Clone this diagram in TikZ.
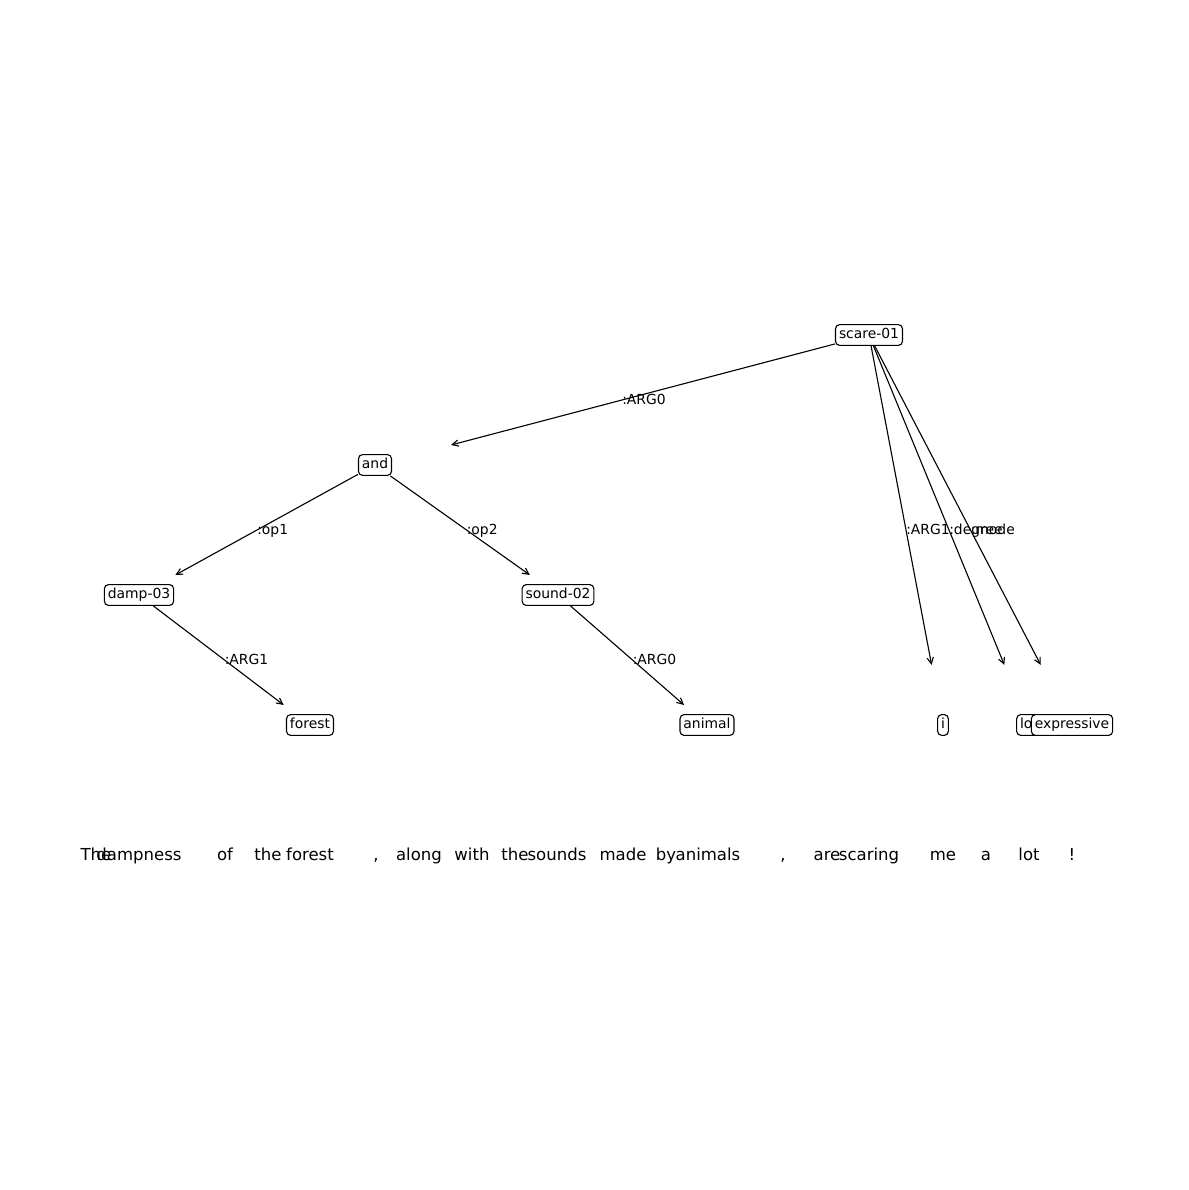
\documentclass[tikz,border=0pt]{standalone}
\usepackage{fontspec}
\setmainfont{DejaVu Sans}
\usetikzlibrary{calc,arrows.meta}
\begin{document}
\begin{tikzpicture}[x=0.72pt,y=-0.72pt,
  concept/.style={draw, fill=white, rounded corners=3pt, line width=0.8pt,
    inner xsep=2.5pt, inner ysep=2.5pt, text height=7.5pt, text depth=2.5pt,
    font=\fontsize{10}{12}\selectfont},
  rel/.style={line width=0.8pt, -{Straight Barb[length=4.5pt,width=4.5pt]}},
  rellabel/.style={anchor=west, inner sep=0pt, text height=7.5pt, text depth=2.5pt,
    yshift=-0.7pt, font=\fontsize{10}{12}\selectfont},
  token/.style={inner sep=0pt, text height=8.9pt, text depth=2.8pt,
    font=\fontsize{11.9}{14}\selectfont}]
\useasboundingbox (0,0) rectangle (1189,1190);

% concept nodes
\node[concept] (scare)  at (869,335) {scare-01};
\node[concept] (and)    at (375,465) {and};
\node[concept] (damp)   at (139,595) {damp-03};
\node[concept] (sound)  at (558,595) {sound-02};
\node[concept] (forest) at (310,725) {forest};
\node[concept] (animal) at (707,725) {animal};
\node[concept] (i)      at (943,725) {i};
\node[concept] (lot)    at (1029,725) {lot};
\node[concept] (expr)   at (1072,725) {expressive};

% arrow tips stop short of their targets
\coordinate (and-tip)    at ($(scare)!0.846!(and)$);
\coordinate (damp-tip)   at ($(and)!0.846!(damp)$);
\coordinate (sound-tip)  at ($(and)!0.846!(sound)$);
\coordinate (forest-tip) at ($(damp)!0.846!(forest)$);
\coordinate (animal-tip) at ($(sound)!0.846!(animal)$);
\coordinate (i-tip)      at ($(scare)!0.846!(i)$);
\coordinate (lot-tip)    at ($(scare)!0.846!(lot)$);
\coordinate (expr-tip)   at ($(scare)!0.846!(expr)$);

% relations
\draw[rel] (scare) -- (and-tip);
\draw[rel] (and)   -- (damp-tip);
\draw[rel] (and)   -- (sound-tip);
\draw[rel] (damp)  -- (forest-tip);
\draw[rel] (sound) -- (animal-tip);
\draw[rel] (scare) -- (i-tip);
\draw[rel] (scare) -- (lot-tip);
\draw[rel] (scare) -- (expr-tip);

% relation labels
\node[rellabel] (l-arg0)  at ($(scare)!0.5!(and)$)    {:ARG0};
\node[rellabel] (l-op1)   at ($(and)!0.5!(damp)$)     {:op1};
\node[rellabel] (l-op2)   at ($(and)!0.5!(sound)$)    {:op2};
\node[rellabel] (l-arg1a) at ($(damp)!0.5!(forest)$)  {:ARG1};
\node[rellabel] (l-arg0b) at ($(sound)!0.5!(animal)$) {:ARG0};
\node[rellabel] (l-arg1b) at ($(scare)!0.5!(i)$)      {:ARG1};
\node[rellabel] (l-deg)   at ($(scare)!0.5!(lot)$)    {:degree};
\node[rellabel] (l-mode)  at ($(scare)!0.5!(expr)$)   {:mode};

% sentence tokens
\node[token] (w1)  at (96,856)   {The};
\node[token] (w2)  at (139,856)  {dampness};
\node[token] (w3)  at (225,856)  {of};
\node[token] (w4)  at (268,856)  {the};
\node[token] (w5)  at (310,856)  {forest};
\node[token] (w6)  at (376,856)  {,};
\node[token] (w7)  at (419,856)  {along};
\node[token] (w8)  at (472,856)  {with};
\node[token] (w9)  at (515,856)  {the};
\node[token] (w10) at (557,856)  {sounds};
\node[token] (w11) at (623,856)  {made};
\node[token] (w12) at (666,856)  {by};
\node[token] (w13) at (708,856)  {animals};
\node[token] (w14) at (783,856)  {,};
\node[token] (w15) at (827,856)  {are};
\node[token] (w16) at (869,856)  {scaring};
\node[token] (w17) at (943,856)  {me};
\node[token] (w18) at (986,856)  {a};
\node[token] (w19) at (1029,856) {lot};
\node[token] (w20) at (1072,856) {!};
\end{tikzpicture}
\end{document}
